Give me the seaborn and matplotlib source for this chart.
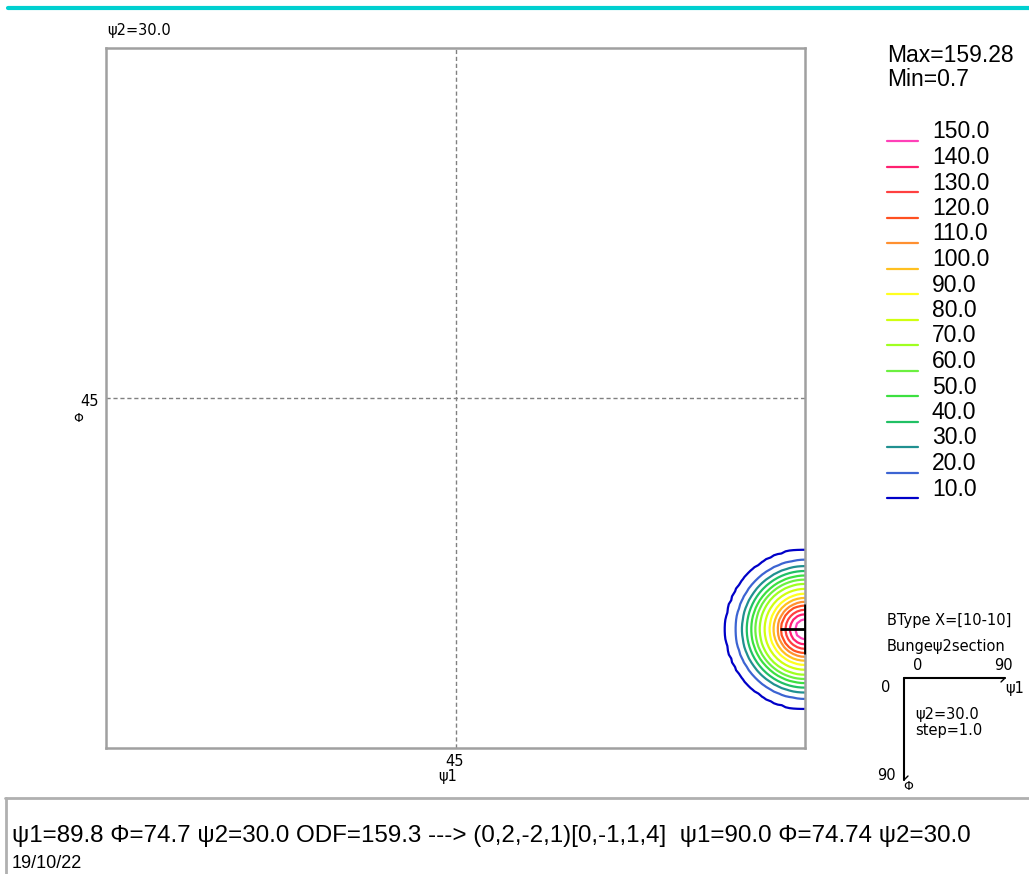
import numpy as np
import matplotlib
matplotlib.use("Agg")
import matplotlib.pyplot as plt
import seaborn as sns

# ODF section data
psi2 = 30.0
odf_max = 159.28
odf_min = 0.7
peak_psi1 = 90.0
peak_phi = 74.74
levels = [10, 20, 30, 40, 50, 60, 70, 80, 90, 100, 110, 120, 130, 140, 150]
# radius (deg) of each contour level around the peak
level_radii = [10.2, 8.9, 8.1, 7.5, 6.9, 6.4, 5.85, 5.2, 4.55, 4.05, 3.5, 3.1, 2.5, 1.95, 1.3]
level_colors = ["#0000c8", "#3c64d2", "#209090", "#20c064", "#3ce040", "#6cf040",
                "#a0ff20", "#d0ff10", "#ffff20", "#ffc020", "#ff9030", "#ff5020",
                "#ff4040", "#ff2070", "#ff40b8"]
info_line = "ψ1=89.8 Φ=74.7 ψ2=30.0 ODF=159.3 ---> (0,2,-2,1)[0,-1,1,4]  ψ1=90.0 Φ=74.74 ψ2=30.0"
date_text = "19/10/22"

sns.set_style("white")
plt.rcParams["font.family"] = ["Liberation Sans", "DejaVu Sans"]
plt.rcParams["text.color"] = "black"

W, H = 1029, 874
fig = plt.figure(figsize=(W / 100, H / 100), dpi=100)

# build the field on a 0.5 deg grid from the level radii
step = 0.5
g1 = np.arange(0, 90 + step / 2, step)
gp = np.arange(0, 90 + step / 2, step)
X, Y = np.meshgrid(g1, gp)
r = np.hypot(X - peak_psi1, Y - peak_phi)
rad_x = [0.0] + level_radii[::-1] + [14.0]
val_y = [odf_max] + levels[::-1] + [odf_min]
Z = np.interp(r, rad_x, val_y)

ax = fig.add_axes([106 / W, 1 - 748 / H, 699 / W, 700 / H])
ax.contour(X, Y, Z, levels=levels, colors=level_colors, linewidths=1.6)
sns.scatterplot(x=[peak_psi1], y=[peak_phi], marker="+", s=1300, color="black",
                linewidth=2, ax=ax, zorder=5)
ax.axvline(45, color="#808080", lw=1, ls=(0, (3, 2)))
ax.axhline(45, color="#808080", lw=1, ls=(0, (3, 2)))
ax.set_xlim(0, 90)
ax.set_ylim(90, 0)
ax.set_xticks([])
ax.set_yticks([])
for s in ax.spines.values():
    s.set_color("#a0a0a0")
    s.set_linewidth(1.8)

# overlay in pixel coordinates for annotations
ov = fig.add_axes([0, 0, 1, 1])
ov.set_xlim(0, W)
ov.set_ylim(H, 0)
ov.axis("off")
ov.patch.set_alpha(0)

small = dict(fontsize=10.5, family=["DejaVu Sans"], va="center")
ov.plot([8, W], [8, 8], color="#00d0d0", lw=3)
ov.text(107, 30, f"ψ2={psi2:.1f}", ha="left", **small)
ov.text(455, 762, "45", ha="center", **small)
ov.text(448, 777, "ψ1", ha="center", **small)
ov.text(99, 401, "45", ha="right", **small)
ov.text(78, 419, "Φ", fontsize=9, va="center", ha="center", family=["DejaVu Sans"])

ov.text(887, 55, f"Max={odf_max}", fontsize=16.5, va="center", ha="left")
ov.text(887, 80, f"Min={odf_min}", fontsize=16.5, va="center", ha="left")
for i, (lv, c) in enumerate(zip(levels[::-1], level_colors[::-1])):
    y = 141 + i * 25.5
    ov.plot([887, 918], [y, y], color=c, lw=1.6)
    ov.text(932, y - 9, f"{lv:.1f}", fontsize=16.5, va="center", ha="left")

# key in the bottom right
key = dict(fontsize=10.5, family=["DejaVu Sans"], va="center")
ov.text(887, 620, "BType X=[10-10]", ha="left", **key)
ov.text(887, 646, "Bungeψ2section", ha="left", **key)
ov.text(918, 666, "0", ha="center", **key)
ov.text(1003, 666, "90", ha="center", **key)
ov.text(886, 688, "0", ha="center", **key)
ov.plot([904, 1005], [678, 678], color="black", lw=1.5)
ov.plot([904, 904], [678, 780], color="black", lw=1.5)
ov.plot([1001, 1005], [682, 678], color="black", lw=1)
ov.plot([904, 908], [780, 776], color="black", lw=1)
ov.text(1015, 688, "ψ1", ha="center", **key)
ov.text(915, 714, f"ψ2={psi2:.1f}", ha="left", **key)
ov.text(915, 730, "step=1.0", ha="left", **key)
ov.text(886, 775, "90", ha="center", **key)
ov.text(908, 787, "Φ", fontsize=9, va="center", ha="center", family=["DejaVu Sans"])

# status panel at the bottom
ov.plot([5, W], [798, 798], color="#b0b0b0", lw=2)
ov.plot([6, 6], [798, H], color="#b0b0b0", lw=2)
ov.text(12, 836, info_line, fontsize=17.4, va="center", ha="left")
ov.text(12, 863, date_text, fontsize=13, va="center", ha="left")

fig.savefig("out.png", dpi=100)
